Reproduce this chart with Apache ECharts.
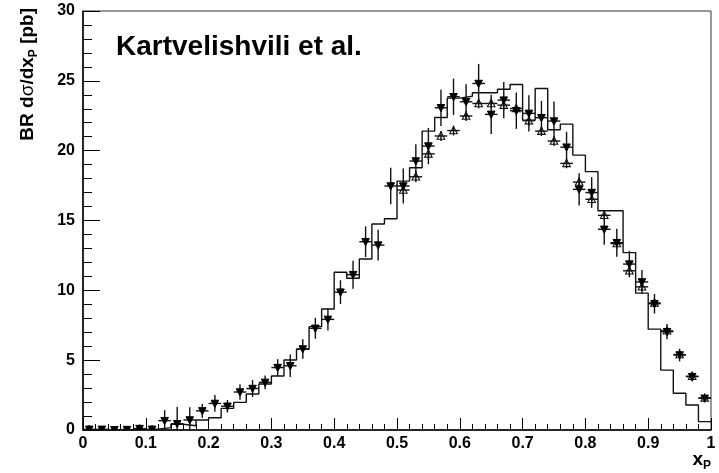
<!DOCTYPE html>
<html>
<head>
<meta charset="utf-8">
<script src="https://cdn.jsdelivr.net/npm/echarts@6/dist/echarts.min.js"></script>
<style>
html,body{margin:0;padding:0;background:#fff;}
#c{width:719px;height:473px;}
</style>
</head>
<body>
<div id="c"></div>
<script>
// ---- data ----
const binWidth = 0.02;
const histLow = 0;
// histogram (theory) bin contents, 50 bins from 0 to 1
const histValues = [0,0,0,0.02,0.03,0.05,0.17,0.41,0.3,0.72,
  0.88,1.55,1.98,2.58,3.29,3.87,5.01,5.78,7.4,8.66,
  11.29,10.86,12.24,14.75,15.13,17.82,18.78,21.4,22.38,23.76,
  23.9,24.15,24.15,24.4,24.74,22.19,24.45,21.5,21.9,19.68,
  18.5,15.7,15.7,12.7,9.8,7.22,4.29,2.63,1.79,0.6];
// filled down-triangles (all 50 bins)
const filledValues = [0.05,0.05,0.02,0.03,0.1,0.05,0.67,0.45,0.72,1.37,
  1.9,1.7,2.72,2.97,3.41,4.47,4.6,5.8,7.28,7.92,
  9.87,11.12,13.48,13.24,17.47,17.47,19.26,20.33,23.07,23.86,
  23.5,24.81,22.6,23.62,22.86,22.67,22.36,22.12,20.25,17.23,
  17.0,14.37,13.41,11.88,10.6,9.04,7.04,5.37,3.82,2.27];
const filledErrors = [0.3,0.2,0.2,0.2,0.3,0.3,0.75,1.2,0.9,0.5,
  0.6,0.45,0.55,0.6,0.5,0.6,0.8,0.7,0.75,0.8,
  0.85,1.0,1.1,1.1,1.3,1.25,1.2,1.3,1.3,1.3,
  1.25,1.4,1.4,1.3,1.3,1.3,1.2,1.4,1.1,1.15,
  1.1,1.1,1.0,0.95,0.85,0.7,0.55,0.45,0.35,0.2];
// open up-triangles, bins 25..49
const openFirstBin = 25;
const openValues = [17.18,18.13,19.77,21.05,21.44,22.48,23.38,23.38,23.26,23.02,
  22.15,21.4,20.69,19.09,17.75,16.52,15.37,13.35,11.4,10.25,
  9.1,7.1,5.4,3.85,2.3];
const openErrors = [0.4,0.4,0.4,0.35,0.35,0.35,0.35,0.35,0.35,0.35,
  0.35,0.35,0.35,0.35,0.35,0.35,0.35,0.35,0.3,0.3,
  0.3,0.25,0.25,0.2,0.2];
const xTickLabels = ['0','0.1','0.2','0.3','0.4','0.5','0.6','0.7','0.8','0.9','1'];
const yTickLabels = ['0','5','10','15','20','25','30'];
const titleText = 'Kartvelishvili et al.';

// ---- build ----
const histData = histValues.map((v,i)=>[histLow + i*binWidth, v]);
histData.push([histLow + histValues.length*binWidth, histValues[histValues.length-1]]);
const filledData = filledValues.map((v,i)=>[histLow + (i+0.5)*binWidth, v, filledErrors[i]]);
const openData = openValues.map((v,i)=>[histLow + (openFirstBin+i+0.5)*binWidth, v, openErrors[i]]);

function makeRender(filled){
  return function(params, api){
    const x = api.value(0), y = api.value(1), e = api.value(2);
    const c = api.coord([x,y]);
    const t = api.coord([x, y+e]);
    const b = api.coord([x, Math.max(0, y-e)]);
    const l = api.coord([x-binWidth/2, y]);
    const r = api.coord([x+binWidth/2, y]);
    const s = 3.8;
    const pts = filled
      ? [[c[0]-s, c[1]-s*0.85],[c[0]+s, c[1]-s*0.85],[c[0], c[1]+s*1.05]]
      : [[c[0]-s, c[1]+s*0.85],[c[0]+s, c[1]+s*0.85],[c[0], c[1]-s*1.05]];
    return {type:'group', children:[
      {type:'line', shape:{x1:t[0],y1:t[1],x2:b[0],y2:b[1]}, style:{stroke:'#111',lineWidth:1.4}},
      {type:'line', shape:{x1:l[0],y1:l[1],x2:r[0],y2:r[1]}, style:{stroke:'#111',lineWidth:1.4}},
      {type:'polygon', shape:{points:pts}, style: filled ? {fill:'#000',stroke:'#000',lineWidth:1} : {fill:'rgba(255,255,255,0)',stroke:'#111',lineWidth:1.1}}
    ]};
  };
}

const chart = echarts.init(document.getElementById('c'), null, {renderer:'canvas'});
const fontFam = '"Liberation Sans", Arial, Helvetica, sans-serif';
chart.setOption({
  animation:false,
  backgroundColor:'#fff',
  grid:{left:83, right:8, top:11, bottom:43, show:true, borderColor:'#333', borderWidth:1, backgroundColor:'transparent'},
  xAxis:{type:'value', min:0, max:1, interval:0.1,
    axisLine:{show:true, onZero:false, lineStyle:{color:'#000', width:1.5}},
    axisTick:{show:true, inside:true, length:12, lineStyle:{color:'#000', width:1}},
    minorTick:{show:true, splitNumber:5, length:6, lineStyle:{color:'#000', width:1}},
    splitLine:{show:false},
    axisLabel:{margin:6, fontSize:16, fontWeight:'bold', color:'#000', fontFamily:fontFam,
      formatter:(v)=>xTickLabels[Math.round(v*10)], showMinLabel:true, showMaxLabel:true}
  },
  yAxis:{type:'value', min:0, max:30, interval:5,
    axisLine:{show:true, onZero:false, lineStyle:{color:'#000', width:1.5}},
    axisTick:{show:true, inside:true, length:17, lineStyle:{color:'#000', width:1}},
    minorTick:{show:true, splitNumber:5, length:9, lineStyle:{color:'#000', width:1}},
    splitLine:{show:false},
    axisLabel:{margin:8, fontSize:16, fontWeight:'bold', color:'#000', fontFamily:fontFam,
      formatter:(v)=>yTickLabels[Math.round(v/5)], showMinLabel:true, showMaxLabel:true}
  },
  graphic:[
    {type:'text', x:116, y:47, style:{text:titleText, fill:'#000', font:'bold 28px '+fontFam, align:'left', verticalAlign:'middle'}},
    {type:'text', x:29, y:8, rotation:Math.PI/2, style:{
      text:'{a|BR d}{g|σ}{a|/dx}{s|P}{a| [pb]}', align:'right', verticalAlign:'middle',
      rich:{
        a:{fontSize:19, fontWeight:'bold', fontFamily:fontFam, fill:'#000', verticalAlign:'top', lineHeight:21},
        g:{fontSize:19, fontWeight:'normal', fontFamily:fontFam, fill:'#000', verticalAlign:'top', lineHeight:21},
        s:{fontSize:12, fontWeight:'bold', fontFamily:fontFam, fill:'#000', verticalAlign:'top', lineHeight:12, padding:[9,0,0,0]}
      }}},
    {type:'text', x:711, y:461, style:{
      text:'{a|x}{s|P}', align:'right', verticalAlign:'middle',
      rich:{
        a:{fontSize:19, fontWeight:'bold', fontFamily:fontFam, fill:'#000', verticalAlign:'top', lineHeight:21},
        s:{fontSize:12, fontWeight:'bold', fontFamily:fontFam, fill:'#000', verticalAlign:'top', lineHeight:12, padding:[9,0,0,0]}
      }}}
  ],
  series:[
    {type:'line', step:'end', data:histData, showSymbol:false, symbol:'none',
      lineStyle:{color:'#111', width:1.4}, z:2, clip:true},
    {type:'custom', data:openData, renderItem:makeRender(false), z:3, clip:true},
    {type:'custom', data:filledData, renderItem:makeRender(true), z:4, clip:true}
  ]
});
</script>
</body>
</html>
